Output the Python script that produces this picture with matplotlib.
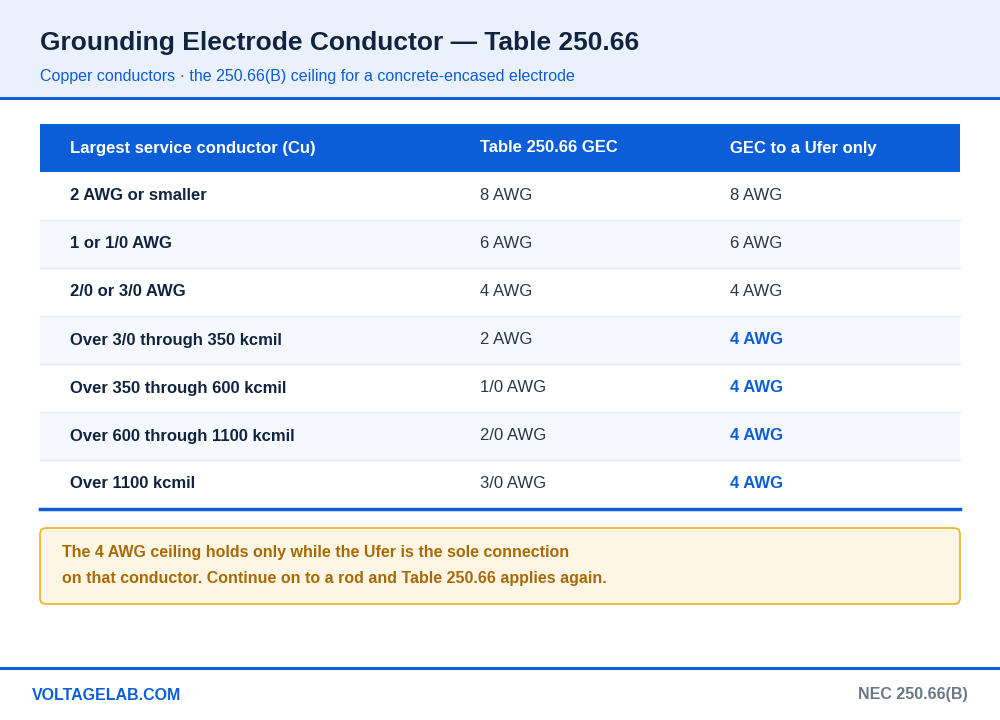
import matplotlib
matplotlib.use("Agg")
import matplotlib.pyplot as plt
from matplotlib.patches import Rectangle, FancyBboxPatch

plt.rcParams['font.family'] = ['Liberation Sans', 'DejaVu Sans']

title = "Grounding Electrode Conductor — Table 250.66"
subtitle = "Copper conductors · the 250.66(B) ceiling for a concrete-encased electrode"
headers = ["Largest service conductor (Cu)", "Table 250.66 GEC", "GEC to a Ufer only"]
service = ["2 AWG or smaller", "1 or 1/0 AWG", "2/0 or 3/0 AWG", "Over 3/0 through 350 kcmil",
           "Over 350 through 600 kcmil", "Over 600 through 1100 kcmil", "Over 1100 kcmil"]
gec = ["8 AWG", "6 AWG", "4 AWG", "2 AWG", "1/0 AWG", "2/0 AWG", "3/0 AWG"]
ufer = ["8 AWG", "6 AWG", "4 AWG", "4 AWG", "4 AWG", "4 AWG", "4 AWG"]
capped = [False, False, False, True, True, True, True]
note = ["The 4 AWG ceiling holds only while the Ufer is the sole connection",
        "on that conductor. Continue on to a rod and Table 250.66 applies again."]
footer_left = "VOLTAGELAB.COM"
footer_right = "NEC 250.66(B)"

BLUE = "#0B5ED7"
NAVY = "#10233F"
fig = plt.figure(figsize=(10, 7.2), dpi=100)
ax = fig.add_axes([0, 0, 1, 1])
ax.set_xlim(0, 1000); ax.set_ylim(720, 0); ax.axis("off")

ax.add_patch(Rectangle((0, 0), 1000, 98, color="#EAF1FC", lw=0))
ax.add_patch(Rectangle((0, 97), 1000, 3, color=BLUE, lw=0))
ax.text(40, 43, title, fontsize=19, fontweight="bold", color=NAVY, va="center")
ax.text(40, 76, subtitle, fontsize=11.5, color=BLUE, va="center")

xs = [70, 480, 730]
ax.add_patch(Rectangle((40, 124), 920, 48, color=BLUE, lw=0))
for x, h in zip(xs, headers):
    ax.text(x, 148, h, fontsize=12, fontweight="bold", color="white", va="center")

for i in range(len(service)):
    y0 = 172 + 48 * i
    ax.add_patch(Rectangle((40, y0), 920, 48, color="white" if i % 2 == 0 else "#F5F9FE", lw=0))
    if i > 0:
        ax.plot([40, 960], [y0, y0], color="#E1E8F1", lw=1)
    yc = y0 + 24
    ax.text(xs[0], yc, service[i], fontsize=12, fontweight="bold", color=NAVY, va="center")
    ax.text(xs[1], yc, gec[i], fontsize=12, color="#2B3545", va="center")
    if capped[i]:
        ax.text(xs[2], yc, ufer[i], fontsize=12, fontweight="bold", color=BLUE, va="center")
    else:
        ax.text(xs[2], yc, ufer[i], fontsize=12, color="#2B3545", va="center")
ax.plot([40, 960], [509, 509], color=BLUE, lw=2.5)

ax.add_patch(FancyBboxPatch((40, 528), 920, 76, boxstyle="round,pad=0,rounding_size=6",
                            fc="#FEF6E4", ec="#F0B21E", lw=1.2))
ax.text(62, 552, note[0], fontsize=11.5, fontweight="bold", color="#A86A05", va="center")
ax.text(62, 578, note[1], fontsize=11.5, fontweight="bold", color="#A86A05", va="center")

ax.add_patch(Rectangle((0, 667), 1000, 3, color=BLUE, lw=0))
ax.text(32, 695, footer_left, fontsize=11.5, fontweight="bold", color=BLUE, va="center")
ax.text(968, 695, footer_right, fontsize=11.5, fontweight="bold", color="#6B7688", va="center", ha="right")

fig.savefig("out.png", dpi=100)
